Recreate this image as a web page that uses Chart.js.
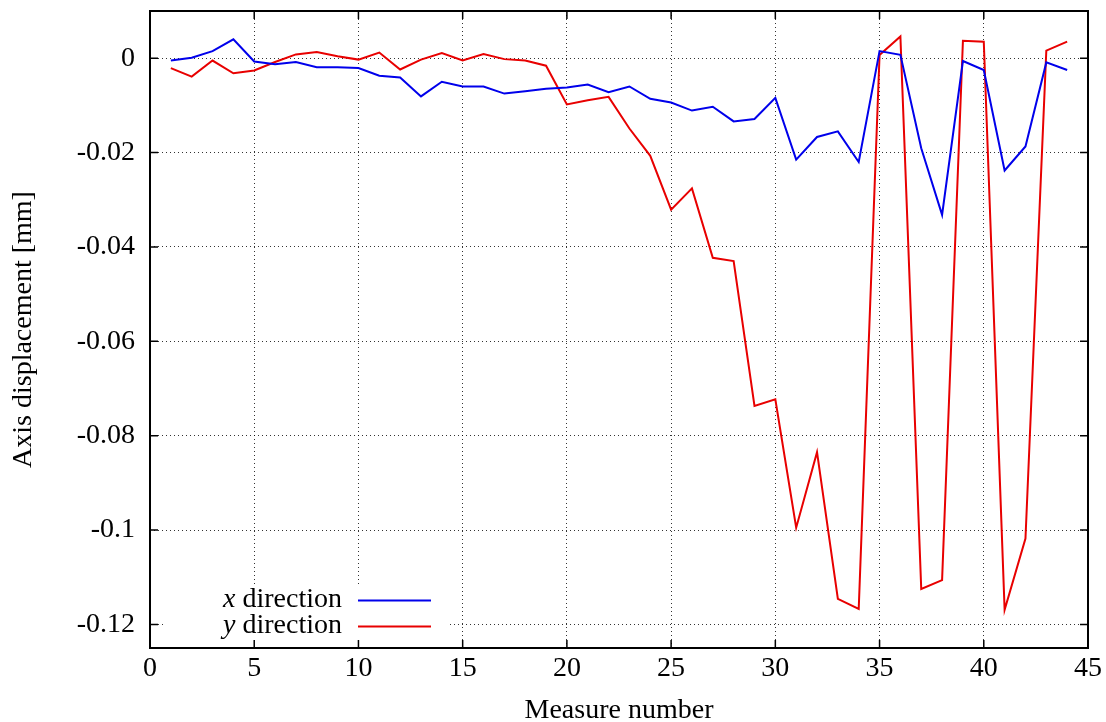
<!DOCTYPE html>
<html lang="en">
<head>
    <meta charset="UTF-8">
    <title>Axis displacement</title>
    <script src="https://cdn.jsdelivr.net/npm/chart.js"></script>
    <style>
        html, body {
            margin: 0;
            padding: 0;
            background: #ffffff;
        }
        .chart-container {
            width: 1106px;
            height: 722px;
            position: relative;
        }
    </style>
</head>
<body>
    <div class="chart-container">
        <canvas id="dispChart" width="1106" height="722"></canvas>
    </div>
    <script>
        const measures = [1, 2, 3, 4, 5, 6, 7, 8, 9, 10, 11, 12, 13, 14, 15, 16, 17, 18, 19, 20, 21, 22,
                          23, 24, 25, 26, 27, 28, 29, 30, 31, 32, 33, 34, 35, 36, 37, 38, 39, 40, 41, 42, 43, 44];

        const xDirection = [-0.0005, 0.0001, 0.0015, 0.0040, -0.0007, -0.0013, -0.0008, -0.0019, -0.0019, -0.0021,
                            -0.0037, -0.0041, -0.0081, -0.0050, -0.0060, -0.0060, -0.0075, -0.0070, -0.0065, -0.0062,
                            -0.0056, -0.0072, -0.0060, -0.0086, -0.0094, -0.0111, -0.0103, -0.0134, -0.0129, -0.0084,
                            -0.0215, -0.0167, -0.0155, -0.0220, 0.0015, 0.0007, -0.0191, -0.0332, -0.0006, -0.0025,
                            -0.0238, -0.0187, -0.0009, -0.0025];

        const yDirection = [-0.0021, -0.0039, -0.0005, -0.0032, -0.0026, -0.0008, 0.0008, 0.0013, 0.0004, -0.0003,
                            0.0012, -0.0024, -0.0003, 0.0011, -0.0005, 0.0009, -0.0002, -0.0005, -0.0016, -0.0098,
                            -0.0089, -0.0082, -0.0149, -0.0207, -0.0321, -0.0276, -0.0423, -0.0430, -0.0737, -0.0723,
                            -0.0995, -0.0835, -0.1146, -0.1167, 0.0007, 0.0046, -0.1125, -0.1106, 0.0037, 0.0035,
                            -0.1169, -0.1018, 0.0016, 0.0035];

        const xTicks = [0, 5, 10, 15, 20, 25, 30, 35, 40, 45];
        const yTicks = [0, -0.02, -0.04, -0.06, -0.08, -0.1, -0.12];

        const FONT = "'Liberation Serif', 'Times New Roman', serif";
        const FSIZE = 28;
        const BLUE = 'rgb(0, 0, 235)';
        const RED = 'rgb(232, 0, 0)';

        const toPoints = (vals) => vals.map((v, i) => ({ x: measures[i], y: v }));

        // gnuplot-like frame, inward ticks on every side, and an opaque key box
        const framePlugin = {
            id: 'frame',
            afterDatasetsDraw(chart) {
                const { ctx, chartArea: a, scales } = chart;
                ctx.save();

                // key box
                ctx.fillStyle = '#ffffff';
                ctx.fillRect(163, 587, 285, a.bottom - 587);
                const entries = [
                    { sym: 'x', color: BLUE, y: 600 },
                    { sym: 'y', color: RED, y: 626 }
                ];
                ctx.textBaseline = 'middle';
                entries.forEach(e => {
                    ctx.font = FSIZE + 'px ' + FONT;
                    ctx.fillStyle = '#000';
                    ctx.textAlign = 'right';
                    const rest = ' direction';
                    ctx.fillText(rest, 342, e.y);
                    const w = ctx.measureText(rest).width;
                    ctx.font = 'italic ' + FSIZE + 'px ' + FONT;
                    ctx.fillText(e.sym, 342 - w, e.y);
                    ctx.strokeStyle = e.color;
                    ctx.lineWidth = 2;
                    ctx.beginPath();
                    ctx.moveTo(358, e.y + 0.5);
                    ctx.lineTo(431, e.y + 0.5);
                    ctx.stroke();
                });

                // tick marks
                ctx.strokeStyle = '#000';
                ctx.lineWidth = 1.5;
                const len = 8;
                scales.x.ticks.forEach(t => {
                    const px = scales.x.getPixelForValue(t.value);
                    ctx.beginPath();
                    ctx.moveTo(px, a.bottom); ctx.lineTo(px, a.bottom - len);
                    ctx.moveTo(px, a.top); ctx.lineTo(px, a.top + len);
                    ctx.stroke();
                });
                scales.y.ticks.forEach(t => {
                    const py = scales.y.getPixelForValue(t.value);
                    ctx.beginPath();
                    ctx.moveTo(a.left, py); ctx.lineTo(a.left + len, py);
                    ctx.moveTo(a.right, py); ctx.lineTo(a.right - len, py);
                    ctx.stroke();
                });

                // frame
                ctx.lineWidth = 2;
                ctx.strokeRect(a.left, a.top, a.right - a.left, a.bottom - a.top);
                ctx.restore();
            }
        };

        const gridStyle = {
            color: 'rgba(0, 0, 0, 0.8)',
            lineWidth: 1,
            drawTicks: false
        };

        new Chart(document.getElementById('dispChart'), {
            type: 'line',
            data: {
                datasets: [
                    {
                        label: 'x direction',
                        data: toPoints(xDirection),
                        borderColor: BLUE,
                        borderWidth: 2,
                        pointRadius: 0,
                        tension: 0,
                        fill: false
                    },
                    {
                        label: 'y direction',
                        data: toPoints(yDirection),
                        borderColor: RED,
                        borderWidth: 2,
                        pointRadius: 0,
                        tension: 0,
                        fill: false
                    }
                ]
            },
            options: {
                responsive: false,
                animation: false,
                layout: { padding: { top: 11, right: 18, left: 0, bottom: 0 } },
                plugins: {
                    legend: { display: false },
                    tooltip: { enabled: false }
                },
                scales: {
                    x: {
                        type: 'linear',
                        min: 0,
                        max: 45,
                        afterBuildTicks: (s) => { s.ticks = xTicks.map(v => ({ value: v })); },
                        afterFit: (s) => {
                            s.height = 74;
                            s.paddingLeft = 0;
                            s.paddingRight = 0;
                        },
                        border: { display: false, dash: [1, 3] },
                        grid: gridStyle,
                        ticks: {
                            padding: 4,
                            color: '#000',
                            font: { family: FONT, size: FSIZE, lineHeight: 1.2 },
                            maxRotation: 0
                        },
                        title: {
                            display: true,
                            text: 'Measure number',
                            color: '#000',
                            font: { family: FONT, size: FSIZE, lineHeight: 0.8 },
                            padding: { top: 0, bottom: 0 }
                        }
                    },
                    y: {
                        type: 'linear',
                        min: -0.125,
                        max: 0.01,
                        afterBuildTicks: (s) => { s.ticks = yTicks.map(v => ({ value: v })); },
                        afterFit: (s) => {
                            s.width = 150;
                            s.paddingTop = 0;
                            s.paddingBottom = 0;
                        },
                        border: { display: false, dash: [1, 3] },
                        grid: gridStyle,
                        ticks: {
                            padding: 15,
                            color: '#000',
                            font: { family: FONT, size: FSIZE },
                            callback: (v) => String(Number(v.toFixed(3)))
                        },
                        title: {
                            display: true,
                            text: 'Axis displacement [mm]',
                            color: '#000',
                            font: { family: FONT, size: FSIZE, lineHeight: 0.8 },
                            padding: { top: 12, bottom: 0 }
                        }
                    }
                }
            },
            plugins: [framePlugin]
        });
    </script>
</body>
</html>
